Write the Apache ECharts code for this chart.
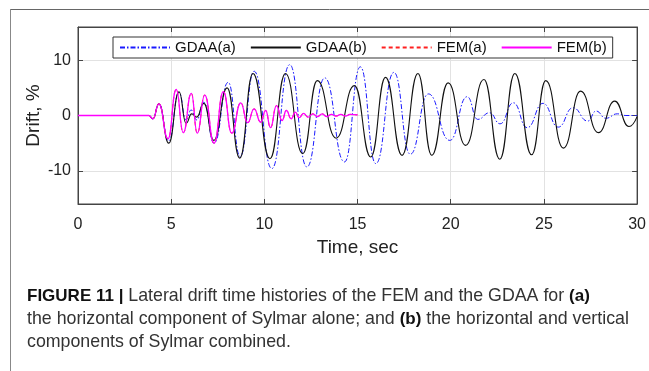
<!DOCTYPE html>
<html>
<head>
<meta charset="utf-8">
<script src="https://cdn.jsdelivr.net/npm/echarts@6/dist/echarts.min.js"></script>
<style>
  html, body { margin: 0; padding: 0; background: #fff; }
  #chart { width: 649px; height: 371px; }
</style>
</head>
<body>
<div id="chart"></div>
<script>
// 读图得到的峰谷点 [时间 s, 层间位移 %]
const gdaaA = [
  [0, 0], [3.4, 0], [3.8, 0], [4.02, -0.6], [4.34, 2.1], [4.87, -4.6], [5.42, 4.2],
  [5.8, -0.8], [6.07, 1.0], [6.37, -0.8], [6.75, 2.4], [7.3, -5.0], [8.06, 6.0],
  [8.7, -7.4], [9.45, 8.0], [10.4, -9.6], [11.36, 9.2], [12.28, -9.3], [13.24, 6.8],
  [14.3, -8.4], [15.15, 8.8], [15.98, -8.7], [16.95, 7.8], [17.83, -7.0], [18.8, 3.9],
  [19.95, -4.5], [20.88, 3.4], [21.45, -0.7], [22.08, 0.5], [22.65, -1.5], [23.36, 2.3],
  [24.1, -2.2], [24.95, 2.2], [25.77, -2.1], [26.56, 1.4], [27.35, -1.0], [27.8, 0.8],
  [28.32, -0.5], [28.94, 0.3], [29.4, 0], [30, 0]
];
const gdaaB = [
  [0, 0], [3.4, 0], [3.8, 0], [4.02, -0.6], [4.34, 2.1], [4.87, -5.0], [5.42, 4.3],
  [5.8, -1.4], [6.1, 0.3], [6.37, -0.3], [6.75, 2.2], [7.29, -4.5], [8.0, 5.0],
  [8.68, -7.7], [9.39, 7.6], [10.3, -7.8], [11.13, 7.6], [12.06, -6.9], [12.84, 6.3],
  [13.85, -4.1], [14.83, 5.4], [15.71, -7.5], [16.5, 6.9], [17.39, -7.2], [18.24, 7.6],
  [18.98, -7.2], [19.86, 5.9], [20.8, -5.4], [21.78, 6.5], [22.63, -7.9], [23.44, 7.6],
  [24.34, -7.1], [25.1, 6.3], [26.05, -5.9], [26.97, 4.4], [27.92, -3.1], [28.8, 2.6],
  [29.56, -2.0], [30, -0.2]
];
const femA = [
  [0, 0], [3.4, 0], [3.8, 0], [4.02, -0.6], [4.34, 2.1], [4.83, -4.2], [5.27, 4.7],
  [5.65, -3.1], [6.08, 4.0], [6.4, -3.2], [6.8, 3.7], [7.3, -5.0], [7.8, 4.3],
  [8.25, -3.2], [8.73, 2.3], [9.1, -1.3], [9.45, 1.2], [9.8, -1.2], [10.07, 0.9],
  [10.33, -2.2], [10.65, 1.8], [10.95, -0.9], [11.18, 0.9], [11.44, -0.6], [11.66, 0.6],
  [11.87, -0.4], [12.1, 0.4], [12.35, -0.3], [12.6, 0.3], [12.85, -0.2], [13.1, 0.3],
  [13.35, -0.2], [13.6, 0.2], [13.85, -0.1], [14.1, 0.2], [14.35, -0.1], [14.6, 0.2], [15, 0.1]
];
const femB = [
  [0, 0], [3.4, 0], [3.8, 0], [4.02, -0.6], [4.34, 2.1], [4.83, -4.2], [5.27, 4.7],
  [5.65, -3.1], [6.08, 4.0], [6.4, -3.2], [6.8, 3.7], [7.3, -5.0], [7.8, 4.3],
  [8.25, -3.2], [8.73, 2.3], [9.1, -1.3], [9.45, 1.2], [9.8, -1.2], [10.07, 0.9],
  [10.33, -2.2], [10.65, 1.8], [10.95, -0.9], [11.18, 0.9], [11.44, -0.6], [11.66, 0.6],
  [11.87, -0.4], [12.1, 0.4], [12.35, -0.3], [12.6, 0.3], [12.85, -0.2], [13.1, 0.3],
  [13.35, -0.2], [13.6, 0.2], [13.85, -0.1], [14.1, 0.2], [14.35, -0.1], [14.6, 0.2], [15, 0.1]
];
const yTicks = [-10, 0, 10];

const FONT = "'Liberation Sans', Arial, sans-serif";
const chart = echarts.init(document.getElementById("chart"));

function line(name, data, color, type, width) {
  return {
    name: name,
    type: "line",
    data: data,
    symbol: "none",
    smooth: 0.5,
    smoothMonotone: "x",
    lineStyle: { color: color, width: width, type: type },
    itemStyle: { color: color },
  };
}

const tickIn = { show: true, inside: true, length: 5, lineStyle: { color: "#444" } };
const axisLn = { show: true, onZero: false, lineStyle: { color: "#444" } };

chart.setOption({
  animation: false,
  backgroundColor: "#fff",
  grid: {
    left: 78, top: 27, width: 565, height: 177,
    show: true, borderColor: "#444", borderWidth: 1,
  },
  legend: {
    left: 113, top: 37,
    padding: [3, 6, 3, 6],
    itemGap: 14,
    itemWidth: 50,
    itemHeight: 12,
    backgroundColor: "#fff",
    borderColor: "#333",
    borderWidth: 1,
    borderRadius: 0,
    itemStyle: { opacity: 0 },
    textStyle: { fontFamily: FONT, fontSize: 15, color: "#111" },
    data: ["GDAA(a)", "GDAA(b)", "FEM(a)", "FEM(b)"],
  },
  xAxis: [
    {
      type: "value", min: 0, max: 30, interval: 5,
      name: "Time, sec", nameLocation: "middle", nameGap: 34,
      nameMoveOverlap: false,
      nameTextStyle: { fontFamily: FONT, fontSize: 19, color: "#222" },
      axisLine: axisLn,
      axisTick: tickIn,
      axisLabel: { fontFamily: FONT, fontSize: 16, color: "#222", margin: 13 },
      splitLine: { show: true, lineStyle: { color: "#e2e2e2" } },
    },
    {
      type: "value", min: 0, max: 30, interval: 5, position: "top",
      axisLine: axisLn,
      axisTick: tickIn, axisLabel: { show: false }, splitLine: { show: false },
    },
  ],
  yAxis: [
    {
      type: "value", min: -16, max: 16,
      name: "Drift, %", nameLocation: "middle", nameGap: 35,
      nameMoveOverlap: false,
      nameTextStyle: { fontFamily: FONT, fontSize: 19, color: "#222" },
      axisLine: axisLn,
      axisTick: Object.assign({ customValues: yTicks }, tickIn),
      axisLabel: { fontFamily: FONT, fontSize: 16, color: "#222", margin: 7, customValues: yTicks },
      splitLine: { show: true, lineStyle: { color: "#e2e2e2" } },
    },
    {
      type: "value", min: -16, max: 16, position: "right",
      axisLine: axisLn,
      axisTick: Object.assign({ customValues: yTicks }, tickIn),
      axisLabel: { show: false }, splitLine: { show: false },
    },
  ],
  series: [
    line("GDAA(a)", gdaaA, "#1a1aff", [5, 2, 1.5, 2], 1),
    line("GDAA(b)", gdaaB, "#111111", "solid", 1.1),
    line("FEM(a)", femA, "#ff2020", [4, 3], 1),
    line("FEM(b)", femB, "#ff00ff", "solid", 1.3),
  ],
  graphic: [
    // 外框
    { type: "line", shape: { x1: 10, y1: 9.5, x2: 649, y2: 9.5 }, style: { stroke: "#666", lineWidth: 1 } },
    { type: "line", shape: { x1: 10.5, y1: 9, x2: 10.5, y2: 371 }, style: { stroke: "#888", lineWidth: 1 } },
    // 图注
    {
      type: "text", left: 27, top: 285,
      style: {
        text: "{b|FIGURE 11 |} Lateral drift time histories of the FEM and the GDAA for {b|(a)}\n" +
              "the horizontal component of Sylmar alone; and {b|(b)} the horizontal and vertical\n" +
              "components of Sylmar combined.",
        font: "17.8px 'Liberation Sans', sans-serif",
        fill: "#333",
        lineHeight: 23,
        rich: {
          b: { font: "bold 17px 'Liberation Sans', sans-serif", fill: "#111", lineHeight: 23 },
        },
      },
    },
  ],
});
</script>
</body>
</html>
